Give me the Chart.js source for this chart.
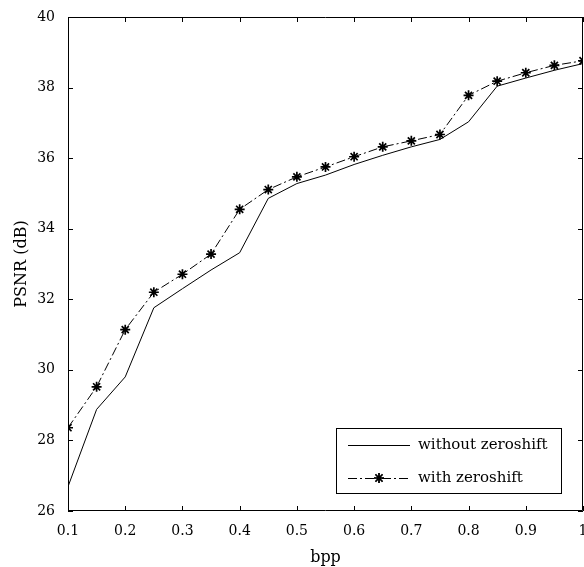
<!DOCTYPE html>
<html><head><meta charset="utf-8">
<script src="https://cdn.jsdelivr.net/npm/chart.js@4/dist/chart.umd.min.js"></script>
<style>html,body{margin:0;padding:0;background:#fff}#wrap{width:584px;height:567px}</style>
</head><body><div id="wrap"><canvas id="c" width="584" height="567"></canvas></div>
<script>
const bpp = [0.1,0.15,0.2,0.25,0.3,0.35,0.4,0.45,0.5,0.55,0.6,0.65,0.7,0.75,0.8,0.85,0.9,0.95,1.0];
const psnrWithout = [26.69,28.88,29.80,31.76,32.30,32.83,33.32,34.86,35.28,35.52,35.82,36.08,36.32,36.53,37.03,38.04,38.27,38.49,38.68];
const psnrWith = [28.36,29.52,31.14,32.20,32.71,33.28,34.55,35.11,35.47,35.75,36.04,36.32,36.49,36.67,37.78,38.18,38.42,38.63,38.76];
const xTicks = [0.1,0.2,0.3,0.4,0.5,0.6,0.7,0.8,0.9,1];
const yTicks = [26,28,30,32,34,36,38,40];
const seriesLabels = ['without zeroshift','with zeroshift'];

const FONT = 'DejaVu Serif';

const boxTicks = {
  id:'boxTicks',
  afterDatasetsDraw(chart){
    const {ctx, chartArea:a, scales:{x,y}} = chart;
    ctx.save();
    ctx.strokeStyle='#000'; ctx.lineWidth=1;
    ctx.beginPath();
    ctx.rect(a.left+0.5,a.top+0.5,a.right-a.left-1,a.bottom-a.top-1);
    const L=5;
    xTicks.forEach(v=>{const p=Math.round(x.getPixelForValue(v))+0.5;
      ctx.moveTo(p,a.bottom); ctx.lineTo(p,a.bottom-L);
      ctx.moveTo(p,a.top); ctx.lineTo(p,a.top+L);});
    yTicks.forEach(v=>{const p=Math.round(y.getPixelForValue(v))+0.5;
      ctx.moveTo(a.left,p); ctx.lineTo(a.left+L,p);
      ctx.moveTo(a.right,p); ctx.lineTo(a.right-L,p);});
    ctx.stroke();
    // legend box
    const bw=225,bh=65,bx=a.right-22-bw,by=a.bottom-18-bh;
    ctx.fillStyle='#fff';
    ctx.fillRect(bx,by,bw,bh);
    ctx.strokeRect(bx+0.5,by+0.5,bw,bh);
    ctx.font='15px "'+FONT+'"';
    ctx.fillStyle='#000';
    ctx.textBaseline='middle';
    const ds=chart.data.datasets;
    [0,1].forEach(i=>{
      const yy=by+17+i*33, x0=bx+12, x1=bx+74;
      ctx.save();
      ctx.lineWidth=ds[i].borderWidth;
      ctx.setLineDash(ds[i].borderDash||[]);
      ctx.beginPath(); ctx.moveTo(x0,yy+0.5); ctx.lineTo(x1,yy+0.5); ctx.stroke();
      ctx.restore();
      if(ds[i].pointRadius>0){
        Chart.helpers.drawPoint(ctx,{pointStyle:'star',radius:ds[i].pointRadius,borderWidth:ds[i].pointBorderWidth},(x0+x1)/2,yy);
        ctx.lineWidth=ds[i].pointBorderWidth; ctx.stroke();
      }
      ctx.fillText(ds[i].label,bx+82,yy);
    });
    ctx.restore();
  }
};

new Chart(document.getElementById('c'),{
  type:'line',
  data:{datasets:[
    {label:seriesLabels[0],data:bpp.map((b,i)=>({x:b,y:psnrWithout[i]})),borderColor:'#000',borderWidth:1,pointRadius:0,fill:false,tension:0},
    {label:seriesLabels[1],data:bpp.map((b,i)=>({x:b,y:psnrWith[i]})),borderColor:'#000',borderWidth:1,borderDash:[9,3,2,3],pointStyle:'star',pointRadius:5,pointBorderWidth:1.7,pointBorderColor:'#000',pointBackgroundColor:'#000',fill:false,tension:0}
  ]},
  options:{
    responsive:false,animation:false,devicePixelRatio:1,
    layout:{autoPadding:false,padding:{top:17,right:1,left:0,bottom:0}},
    plugins:{legend:{display:false},tooltip:{enabled:false}},
    scales:{
      x:{type:'linear',min:0.1,max:1,
        afterBuildTicks:s=>{s.ticks=xTicks.map(v=>({value:v}));},
        afterFit:s=>{s.height=56;s.paddingLeft=0;s.paddingRight=0;},
        grid:{display:false,drawTicks:false},border:{display:false},
        ticks:{color:'#000',font:{family:FONT,size:14},padding:12,maxRotation:0,autoSkip:false,callback:v=>String(Number(v.toFixed(1)))},
        title:{display:true,text:'bpp',color:'#000',font:{family:FONT,size:16},padding:{top:2,bottom:0}}},
      y:{type:'linear',min:26,max:40,
        afterBuildTicks:s=>{s.ticks=yTicks.map(v=>({value:v}));},
        afterFit:s=>{s.width=68;s.paddingTop=0;s.paddingBottom=0;},
        grid:{display:false,drawTicks:false},border:{display:false},
        ticks:{color:'#000',font:{family:FONT,size:14},padding:13,autoSkip:false},
        title:{display:true,text:'PSNR (dB)',color:'#000',font:{family:FONT,size:16},padding:{top:12,bottom:4}}}
    }
  },
  plugins:[boxTicks]
});
</script></body></html>
